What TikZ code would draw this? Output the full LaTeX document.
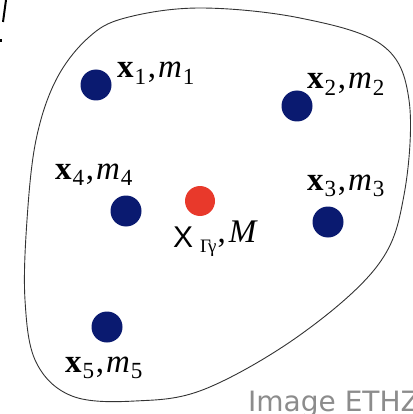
\documentclass[tikz,border=0pt]{standalone}
\usepackage{fontspec}
\setmainfont{Liberation Serif}
\newfontfamily\labelsans{Liberation Sans}
\newfontfamily\creditfont{DejaVu Sans}
\definecolor{navy}{HTML}{0A1A70}
\definecolor{redpt}{HTML}{E8392B}
\definecolor{credit}{HTML}{8C8C8C}
\newcommand{\lbl}[1]{\textbf{x}\kern1pt\textsubscript{#1}\kern1pt,\kern2pt\textit{m}\kern1pt\textsubscript{#1}}
\begin{document}
\begin{tikzpicture}[x=1pt,y=-1pt,
  mass/.style={circle,fill=navy,minimum size=31pt,inner sep=0pt},
  centremass/.style={circle,fill=redpt,minimum size=30pt,inner sep=0pt},
  tag/.style={anchor=base west,inner sep=0pt,font=\fontsize{33}{33}\selectfont}]
\useasboundingbox (0,0) rectangle (412,414);
% region outline
\draw[line width=0.9pt,black!80] plot[smooth cycle,tension=0.6] coordinates {
 (36,140) (27,220) (25,300) (36,362) (72,396) (135,401) (205,389)
 (300,335) (378,265) (404,195) (409,100) (382,45) (300,18) (200,8) (125,18) (88,38) (56,80)};
% points
\node[mass] (p1) at (96,85) {};
\node[mass] (p2) at (297,106) {};
\node[mass] (p3) at (328,222) {};
\node[mass] (p4) at (126,211) {};
\node[mass] (p5) at (107,327) {};
\node[centremass] (pc) at (200,201) {};
% labels
\node[tag] (l1) at (117,78) {\lbl{1}};
\node[tag] (l2) at (307,89) {\lbl{2}};
\node[tag] (l3) at (307,190) {\lbl{3}};
\node[tag] (l4) at (55,179) {\lbl{4}};
\node[tag] (l5) at (65,372) {\lbl{5}};
\node[tag] (lc) at (173,247) {{\labelsans\fontsize{30}{30}\selectfont X}\kern7pt\raisebox{-5pt}{\fontsize{19}{19}\selectfont Γ\kern-3ptγ}\kern1pt\raisebox{5pt}{,\kern3pt\textit{M}}};
% credit
\node[anchor=base west,inner sep=0pt,text=credit,font=\creditfont\fontsize{28}{28}\selectfont] (cr) at (248,411) {Image ETHZ};
% cropped fragment at top-left
\draw[line width=2pt] (6,0) -- (3,22);
\fill (0,39) rectangle (2,42);
\end{tikzpicture}
\end{document}
